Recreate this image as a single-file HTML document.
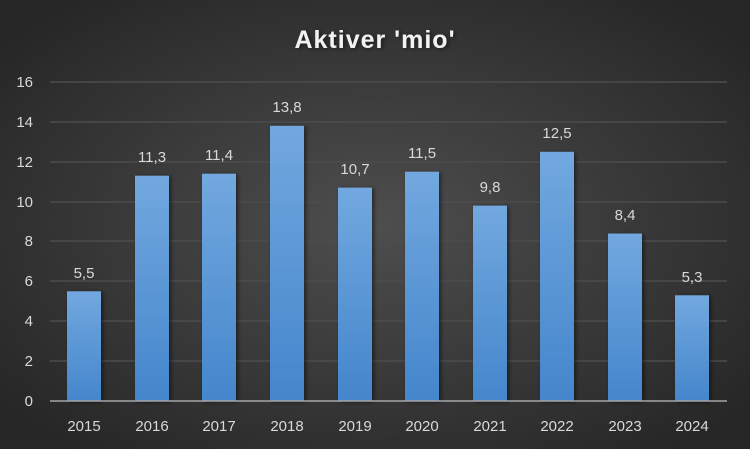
<!DOCTYPE html>
<html><head><style>
html,body{margin:0;padding:0;}
body{width:750px;height:449px;overflow:hidden;}
</style></head><body>
<svg width="750" height="449" xmlns="http://www.w3.org/2000/svg" font-family="Liberation Sans, sans-serif">
<defs>
<radialGradient id="bg" cx="50%" cy="50%" r="65%">
<stop offset="0" stop-color="#4e4e4e"/>
<stop offset="1" stop-color="#262626"/>
</radialGradient>
<linearGradient id="bar" x1="0" y1="0" x2="0" y2="1">
<stop offset="0" stop-color="#72a8df"/>
<stop offset="1" stop-color="#4486cc"/>
</linearGradient>
<filter id="sh" x="-30%" y="-10%" width="160%" height="130%"><feDropShadow dx="2" dy="1" stdDeviation="2" flood-color="#000" flood-opacity="0.5"/></filter>
</defs>
<rect width="750" height="449" fill="url(#bg)"/>
<text x="375" y="48" text-anchor="middle" fill="#f2f2f2" font-size="25" font-weight="bold" letter-spacing="1" filter="url(#sh)">Aktiver 'mio'</text>
<g stroke="#4c4c4c" stroke-width="1.5">
<line x1="50" x2="727" y1="82" y2="82"/><line x1="50" x2="727" y1="122" y2="122"/>
<line x1="50" x2="727" y1="162" y2="162"/><line x1="50" x2="727" y1="202" y2="202"/>
<line x1="50" x2="727" y1="241" y2="241"/><line x1="50" x2="727" y1="281" y2="281"/>
<line x1="50" x2="727" y1="321" y2="321"/><line x1="50" x2="727" y1="361" y2="361"/>
</g>
<g fill="#d9d9d9" font-size="15" text-anchor="end">
<text x="33" y="87">16</text><text x="33" y="127">14</text><text x="33" y="167">12</text>
<text x="33" y="207">10</text><text x="33" y="246">8</text><text x="33" y="286">6</text>
<text x="33" y="326">4</text><text x="33" y="366">2</text><text x="33" y="406">0</text>
</g>
<g fill="url(#bar)" filter="url(#sh)">
<rect x="67" y="291.3" width="34" height="109.7"/>
<rect x="135" y="175.7" width="34" height="225.3"/>
<rect x="202" y="173.7" width="34" height="227.3"/>
<rect x="270" y="125.8" width="34" height="275.2"/>
<rect x="338" y="187.6" width="34" height="213.4"/>
<rect x="405" y="171.7" width="34" height="229.3"/>
<rect x="473" y="205.6" width="34" height="195.4"/>
<rect x="540" y="151.8" width="34" height="249.2"/>
<rect x="608" y="233.5" width="34" height="167.5"/>
<rect x="675" y="295.3" width="34" height="105.7"/>
</g>
<line x1="50" x2="727" y1="401" y2="401" stroke="#a6a6a6" stroke-width="1.5"/>
<g fill="#d9d9d9" font-size="15" text-anchor="middle">
<text x="84" y="278">5,5</text><text x="152" y="162">11,3</text><text x="219" y="160">11,4</text>
<text x="287" y="112">13,8</text><text x="355" y="174">10,7</text><text x="422" y="158">11,5</text>
<text x="490" y="192">9,8</text><text x="557" y="138">12,5</text><text x="625" y="220">8,4</text>
<text x="692" y="282">5,3</text>
<text x="84" y="431">2015</text><text x="152" y="431">2016</text><text x="219" y="431">2017</text>
<text x="287" y="431">2018</text><text x="355" y="431">2019</text><text x="422" y="431">2020</text>
<text x="490" y="431">2021</text><text x="557" y="431">2022</text><text x="625" y="431">2023</text>
<text x="692" y="431">2024</text>
</g>
</svg>
</body></html>
